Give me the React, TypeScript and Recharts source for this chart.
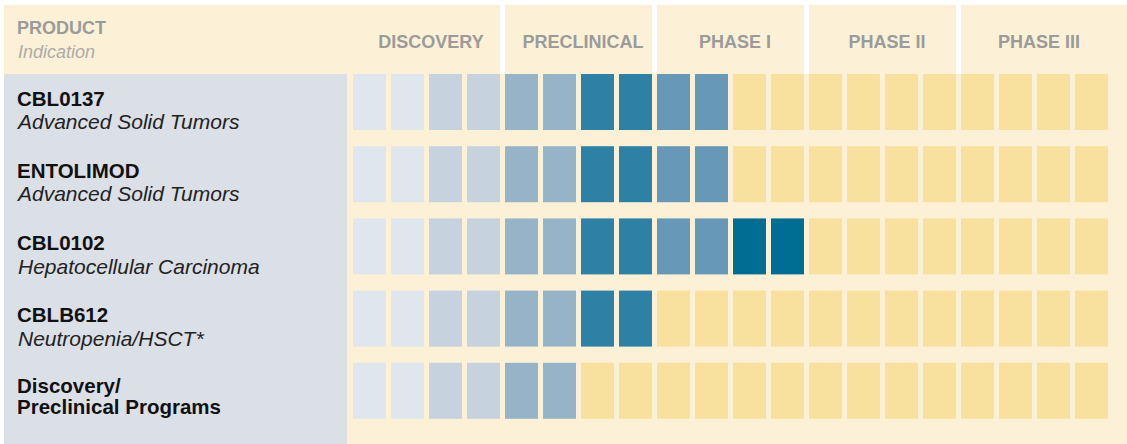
import React from "react"
import { BarChart, Bar, XAxis, YAxis } from "recharts"

const products = ["CBL0137", "ENTOLIMOD", "CBL0102", "CBLB612", "Discovery/"]
const indications = [
  "Advanced Solid Tumors",
  "Advanced Solid Tumors",
  "Hepatocellular Carcinoma",
  "Neutropenia/HSCT*",
  "Preclinical Programs",
]
// last row's second line is bold, not an indication
const secondLineBold = [false, false, false, false, true]
// number of filled segments in each row (4 segments per phase)
const progress = [10, 10, 12, 8, 6]

const phases = ["DISCOVERY", "PRECLINICAL", "PHASE I", "PHASE II", "PHASE III"]
const phaseTicks = [2, 6, 10, 14, 18]
const segmentCount = 20

const filledColors = [
  "#E0E6EE", "#E0E6EE", "#C6D2DE", "#C6D2DE",
  "#96B3C8", "#96B3C8", "#2E81A4", "#2E81A4",
  "#6898B7", "#6898B7", "#006E93", "#006E93",
]
const emptyColor = "#F8E09F"
const cream = "#FCF1D6"
const sidebar = "#DBE0E7"
const font = "'Liberation Sans', Arial, Helvetica, sans-serif"

const segmentKeys = Array.from({ length: segmentCount }, (_, i) => `s${i}`)

const data = products.map((name, r) => {
  const row: Record<string, string | number> = { name, progress: progress[r] }
  segmentKeys.forEach((k) => (row[k] = 1))
  return row
})

const segmentShape = (col: number) => (props: any) => {
  const { x, y, width, height, payload } = props
  const fill = col < payload.progress ? filledColors[col] : emptyColor
  return <rect x={x} y={y} width={Math.max(width - 5, 0)} height={height} fill={fill} />
}

function PhaseTick({ x, payload }: any) {
  const label = phases[phaseTicks.indexOf(payload.value)]
  return (
    <text x={x + 2} y={48} textAnchor="middle" fontFamily={font} fontWeight={700} fontSize={18} fill="#9B9B9B">
      {label}
    </text>
  )
}

function ProductTick({ y, payload }: any) {
  const r = products.indexOf(payload.value)
  const bold = secondLineBold[r]
  return (
    <g>
      <text x={17} y={y + (bold ? 2 : 3.5)} fontFamily={font} fontWeight={700} fontSize={20.5} fill="#111">
        {payload.value}
      </text>
      <text
        x={bold ? 17 : 18}
        y={y + (bold ? 23 : 27)}
        fontFamily={font}
        fontWeight={bold ? 700 : 400}
        fontStyle={bold ? "normal" : "italic"}
        fontSize={bold ? 20.5 : 21}
        fill={bold ? "#111" : "#222"}
      >
        {indications[r]}
      </text>
    </g>
  )
}

export default function App() {
  return (
    <div style={{ position: "absolute", left: 0, top: 0, width: 1127, height: 444, background: "#fff" }}>
      <svg width={1127} height={444} style={{ position: "absolute", left: 0, top: 0 }}>
        <rect x={4} y={5} width={496} height={69} fill={cream} />
        <rect x={505} y={5} width={147} height={69} fill={cream} />
        <rect x={657} y={5} width={147} height={69} fill={cream} />
        <rect x={809} y={5} width={147} height={69} fill={cream} />
        <rect x={961} y={5} width={166} height={69} fill={cream} />
        <rect x={4} y={74} width={343} height={370} fill={sidebar} />
        <rect x={347} y={74} width={780} height={370} fill={cream} />
        <text x={17} y={34} fontFamily={font} fontWeight={700} fontSize={18} fill="#9B9B9B">
          PRODUCT
        </text>
        <text x={18} y={58} fontFamily={font} fontStyle="italic" fontSize={18} fill="#ABABAB">
          Indication
        </text>
      </svg>
      <div style={{ position: "absolute", left: 0, top: 0 }}>
        <BarChart
          width={1127}
          height={444}
          data={data}
          layout="vertical"
          margin={{ top: 36, right: 14, bottom: 17, left: 0 }}
          barSize={56}
          barCategoryGap={0}
        >
          <XAxis
            type="number"
            orientation="top"
            domain={[0, segmentCount]}
            ticks={phaseTicks}
            interval={0}
            height={30}
            axisLine={false}
            tickLine={false}
            tick={<PhaseTick />}
          />
          <YAxis
            type="category"
            dataKey="name"
            width={353}
            interval={0}
            axisLine={false}
            tickLine={false}
            tick={<ProductTick />}
          />
          {segmentKeys.map((k, i) => (
            <Bar key={k} dataKey={k} stackId="row" shape={segmentShape(i)} isAnimationActive={false} />
          ))}
        </BarChart>
      </div>
    </div>
  )
}
